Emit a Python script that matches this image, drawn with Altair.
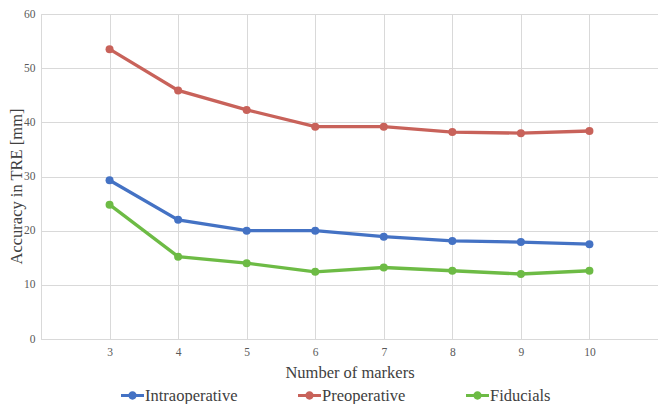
import altair as alt
import pandas as pd

markers = [3, 4, 5, 6, 7, 8, 9, 10]
intraoperative = [29.3, 22.0, 20.0, 20.0, 18.9, 18.1, 17.9, 17.5]
preoperative = [53.5, 45.9, 42.3, 39.2, 39.2, 38.2, 38.0, 38.4]
fiducials = [24.8, 15.2, 14.0, 12.4, 13.2, 12.6, 12.0, 12.6]

series_names = ["Intraoperative", "Preoperative", "Fiducials"]
series_colors = ["#4472C4", "#C8625A", "#6DBB45"]

rows = []
for name, vals in zip(series_names, [intraoperative, preoperative, fiducials]):
    for m, v in zip(markers, vals):
        rows.append({"markers": m, "value": v, "series": name})
df = pd.DataFrame(rows)

font = "Liberation Serif, Times New Roman, serif"

color = alt.Color(
    "series:N",
    scale=alt.Scale(domain=series_names, range=series_colors),
    legend=alt.Legend(
        title=None,
        orient="none",
        legendX=80,
        legendY=370,
        direction="horizontal",
        symbolType="M -1 -0.13 L 1 -0.13 L 1 0.13 L -1 0.13 Z M 0.36 0 A 0.36 0.36 0 1 1 -0.36 0 A 0.36 0.36 0 1 1 0.36 0 Z",
        symbolSize=529,
        symbolStrokeWidth=0,
        labelFont=font,
        labelFontSize=16.5,
        labelColor="#404040",
        columnPadding=60,
        labelOffset=1,
    ),
)

x = alt.X(
    "markers:Q",
    scale=alt.Scale(domain=[2, 11], nice=False, zero=False),
    axis=alt.Axis(
        values=list(range(2, 12)),
        labelExpr="datum.value == 2 || datum.value == 11 ? '' : datum.label",
        title="Number of markers",
        titleFont=font,
        titleFontSize=16.5,
        titleFontWeight="normal",
        titleColor="#404040",
        titlePadding=7,
        labelFont=font,
        labelFontSize=11.5,
        labelColor="#595959",
        labelPadding=7,
        ticks=False,
        domainColor="#D9D9D9",
        gridColor="#D9D9D9",
    ),
)
y = alt.Y(
    "value:Q",
    scale=alt.Scale(domain=[0, 60], nice=False),
    axis=alt.Axis(
        values=[0, 10, 20, 30, 40, 50, 60],
        title="Accuracy in TRE [mm]",
        titleFont=font,
        titleFontSize=16.5,
        titleFontWeight="normal",
        titleColor="#404040",
        titleX=-17,
        titleY=172,
        labelFont=font,
        labelFontSize=11.5,
        labelColor="#595959",
        labelPadding=6,
        ticks=False,
        domain=False,
        gridColor="#D9D9D9",
    ),
)

base = alt.Chart(df).encode(x=x, y=y, color=color, order="markers:Q")
lines = base.mark_line(strokeWidth=3.3)
points = base.mark_point(filled=True, size=64, opacity=1)

chart = (
    alt.layer(lines, points)
    .properties(
        width=617,
        height=325,
        autosize=alt.AutoSizeParams(type="none"),
        padding={"left": 33, "top": 6, "right": 0, "bottom": 65},
    )
    .configure(font=font)
    .configure_axis(labelFont=font, titleFont=font)
    .configure_legend(labelFont=font)
    .configure_view(stroke="#D9D9D9")
)

chart.save("out.html", embed_options={"renderer": "svg", "actions": False})
